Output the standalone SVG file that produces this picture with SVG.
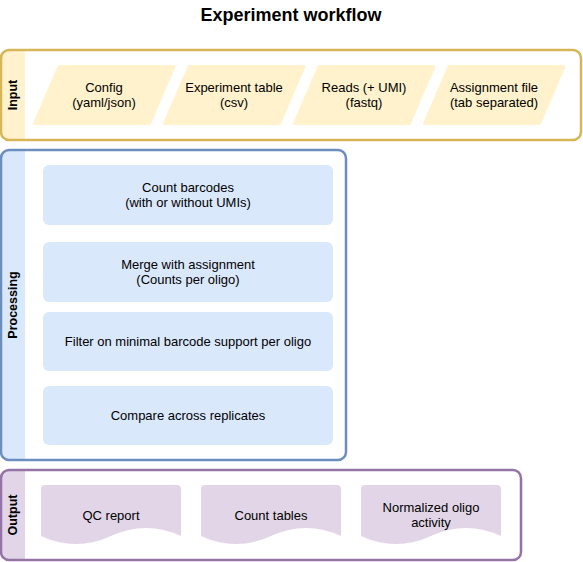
<svg xmlns="http://www.w3.org/2000/svg" width="583" height="562" viewBox="0 0 583 562">
  <style>
    text { font-family: "Liberation Sans", Arial, sans-serif; font-size: 13px; fill: #000; text-anchor: middle; }
    .title { font-size: 18px; font-weight: bold; }
    .lane { font-weight: bold; font-size: 12.5px; }
    .frame { fill: none; stroke-width: 2.5; }
    .input-frame { stroke: #d6b656; }
    .proc-frame { stroke: #6c8ebf; }
    .out-frame { stroke: #9673a6; }
    .data { fill: #fff2cc; stroke: #fff2cc; stroke-width: 3; stroke-linejoin: round; }
    .step { fill: #dae8fc; }
    .doc { fill: #e1d5e7; }
  </style>
  <rect width="583" height="562" fill="#ffffff"/>
  <text class="title" x="291" y="21">Experiment workflow</text>

  <g id="lane-input">
    <path d="M9,50 H25 V140 H9 Q1,140 1,132 V58 Q1,50 9,50 Z" fill="#fff2cc"/>
    <rect class="frame input-frame" x="1" y="50" width="580" height="90" rx="8"/>
    <text class="lane" transform="translate(17,95) rotate(-90)">Input</text>
  </g>
  <g id="node-config">
    <polygon class="data" points="59,66.5 174,66.5 149.5,123.5 34.5,123.5"/>
    <text x="104" y="92">Config</text>
    <text x="104" y="107">(yaml/json)</text>
  </g>
  <g id="node-experiment-table">
    <polygon class="data" points="189,66.5 304,66.5 279.5,123.5 164.5,123.5"/>
    <text x="234" y="92">Experiment table</text>
    <text x="234" y="107">(csv)</text>
  </g>
  <g id="node-reads">
    <polygon class="data" points="319,66.5 434,66.5 409.5,123.5 294.5,123.5"/>
    <text x="364" y="92">Reads (+ UMI)</text>
    <text x="364" y="107">(fastq)</text>
  </g>
  <g id="node-assignment">
    <polygon class="data" points="449,66.5 564,66.5 539.5,123.5 424.5,123.5"/>
    <text x="494" y="92">Assignment file</text>
    <text x="494" y="107">(tab separated)</text>
  </g>

  <g id="lane-processing">
    <path d="M9,150 H25 V460 H9 Q1,460 1,452 V158 Q1,150 9,150 Z" fill="#dae8fc"/>
    <rect class="frame proc-frame" x="1" y="150" width="345" height="310" rx="8"/>
    <text class="lane" transform="translate(17,305) rotate(-90)">Processing</text>
  </g>
  <g id="node-count-barcodes">
    <rect class="step" x="43" y="165" width="290" height="60" rx="6"/>
    <text x="188" y="192">Count barcodes</text>
    <text x="188" y="207">(with or without UMIs)</text>
  </g>
  <g id="node-merge">
    <rect class="step" x="43" y="242" width="290" height="60" rx="6"/>
    <text x="188" y="269">Merge with assignment</text>
    <text x="188" y="284">(Counts per oligo)</text>
  </g>
  <g id="node-filter">
    <rect class="step" x="43" y="312" width="290" height="59" rx="6"/>
    <text x="188" y="345.5">Filter on minimal barcode support per oligo</text>
  </g>
  <g id="node-compare">
    <rect class="step" x="43" y="386" width="290" height="59" rx="6"/>
    <text x="188" y="419.5">Compare across replicates</text>
  </g>

  <g id="lane-output">
    <path d="M9,470 H25 V560 H9 Q1,560 1,552 V478 Q1,470 9,470 Z" fill="#e1d5e7"/>
    <rect class="frame out-frame" x="1" y="470" width="520" height="90" rx="8"/>
    <text class="lane" transform="translate(17,515) rotate(-90)">Output</text>
  </g>
  <g id="node-qc-report">
    <path class="doc" d="M45,485 H177 Q181,485 181,489 V536 Q146,519.8 111,536 Q76,552.2 41,536 V489 Q41,485 45,485 Z"/>
    <text x="111" y="519.5">QC report</text>
  </g>
  <g id="node-count-tables">
    <path class="doc" d="M205,485 H337 Q341,485 341,489 V536 Q306,519.8 271,536 Q236,552.2 201,536 V489 Q201,485 205,485 Z"/>
    <text x="271" y="519.5">Count tables</text>
  </g>
  <g id="node-normalized">
    <path class="doc" d="M365,485 H497 Q501,485 501,489 V536 Q466,519.8 431,536 Q396,552.2 361,536 V489 Q361,485 365,485 Z"/>
    <text x="431" y="512">Normalized oligo</text>
    <text x="431" y="527">activity</text>
  </g>

  <g id="connectors"></g>
</svg>
